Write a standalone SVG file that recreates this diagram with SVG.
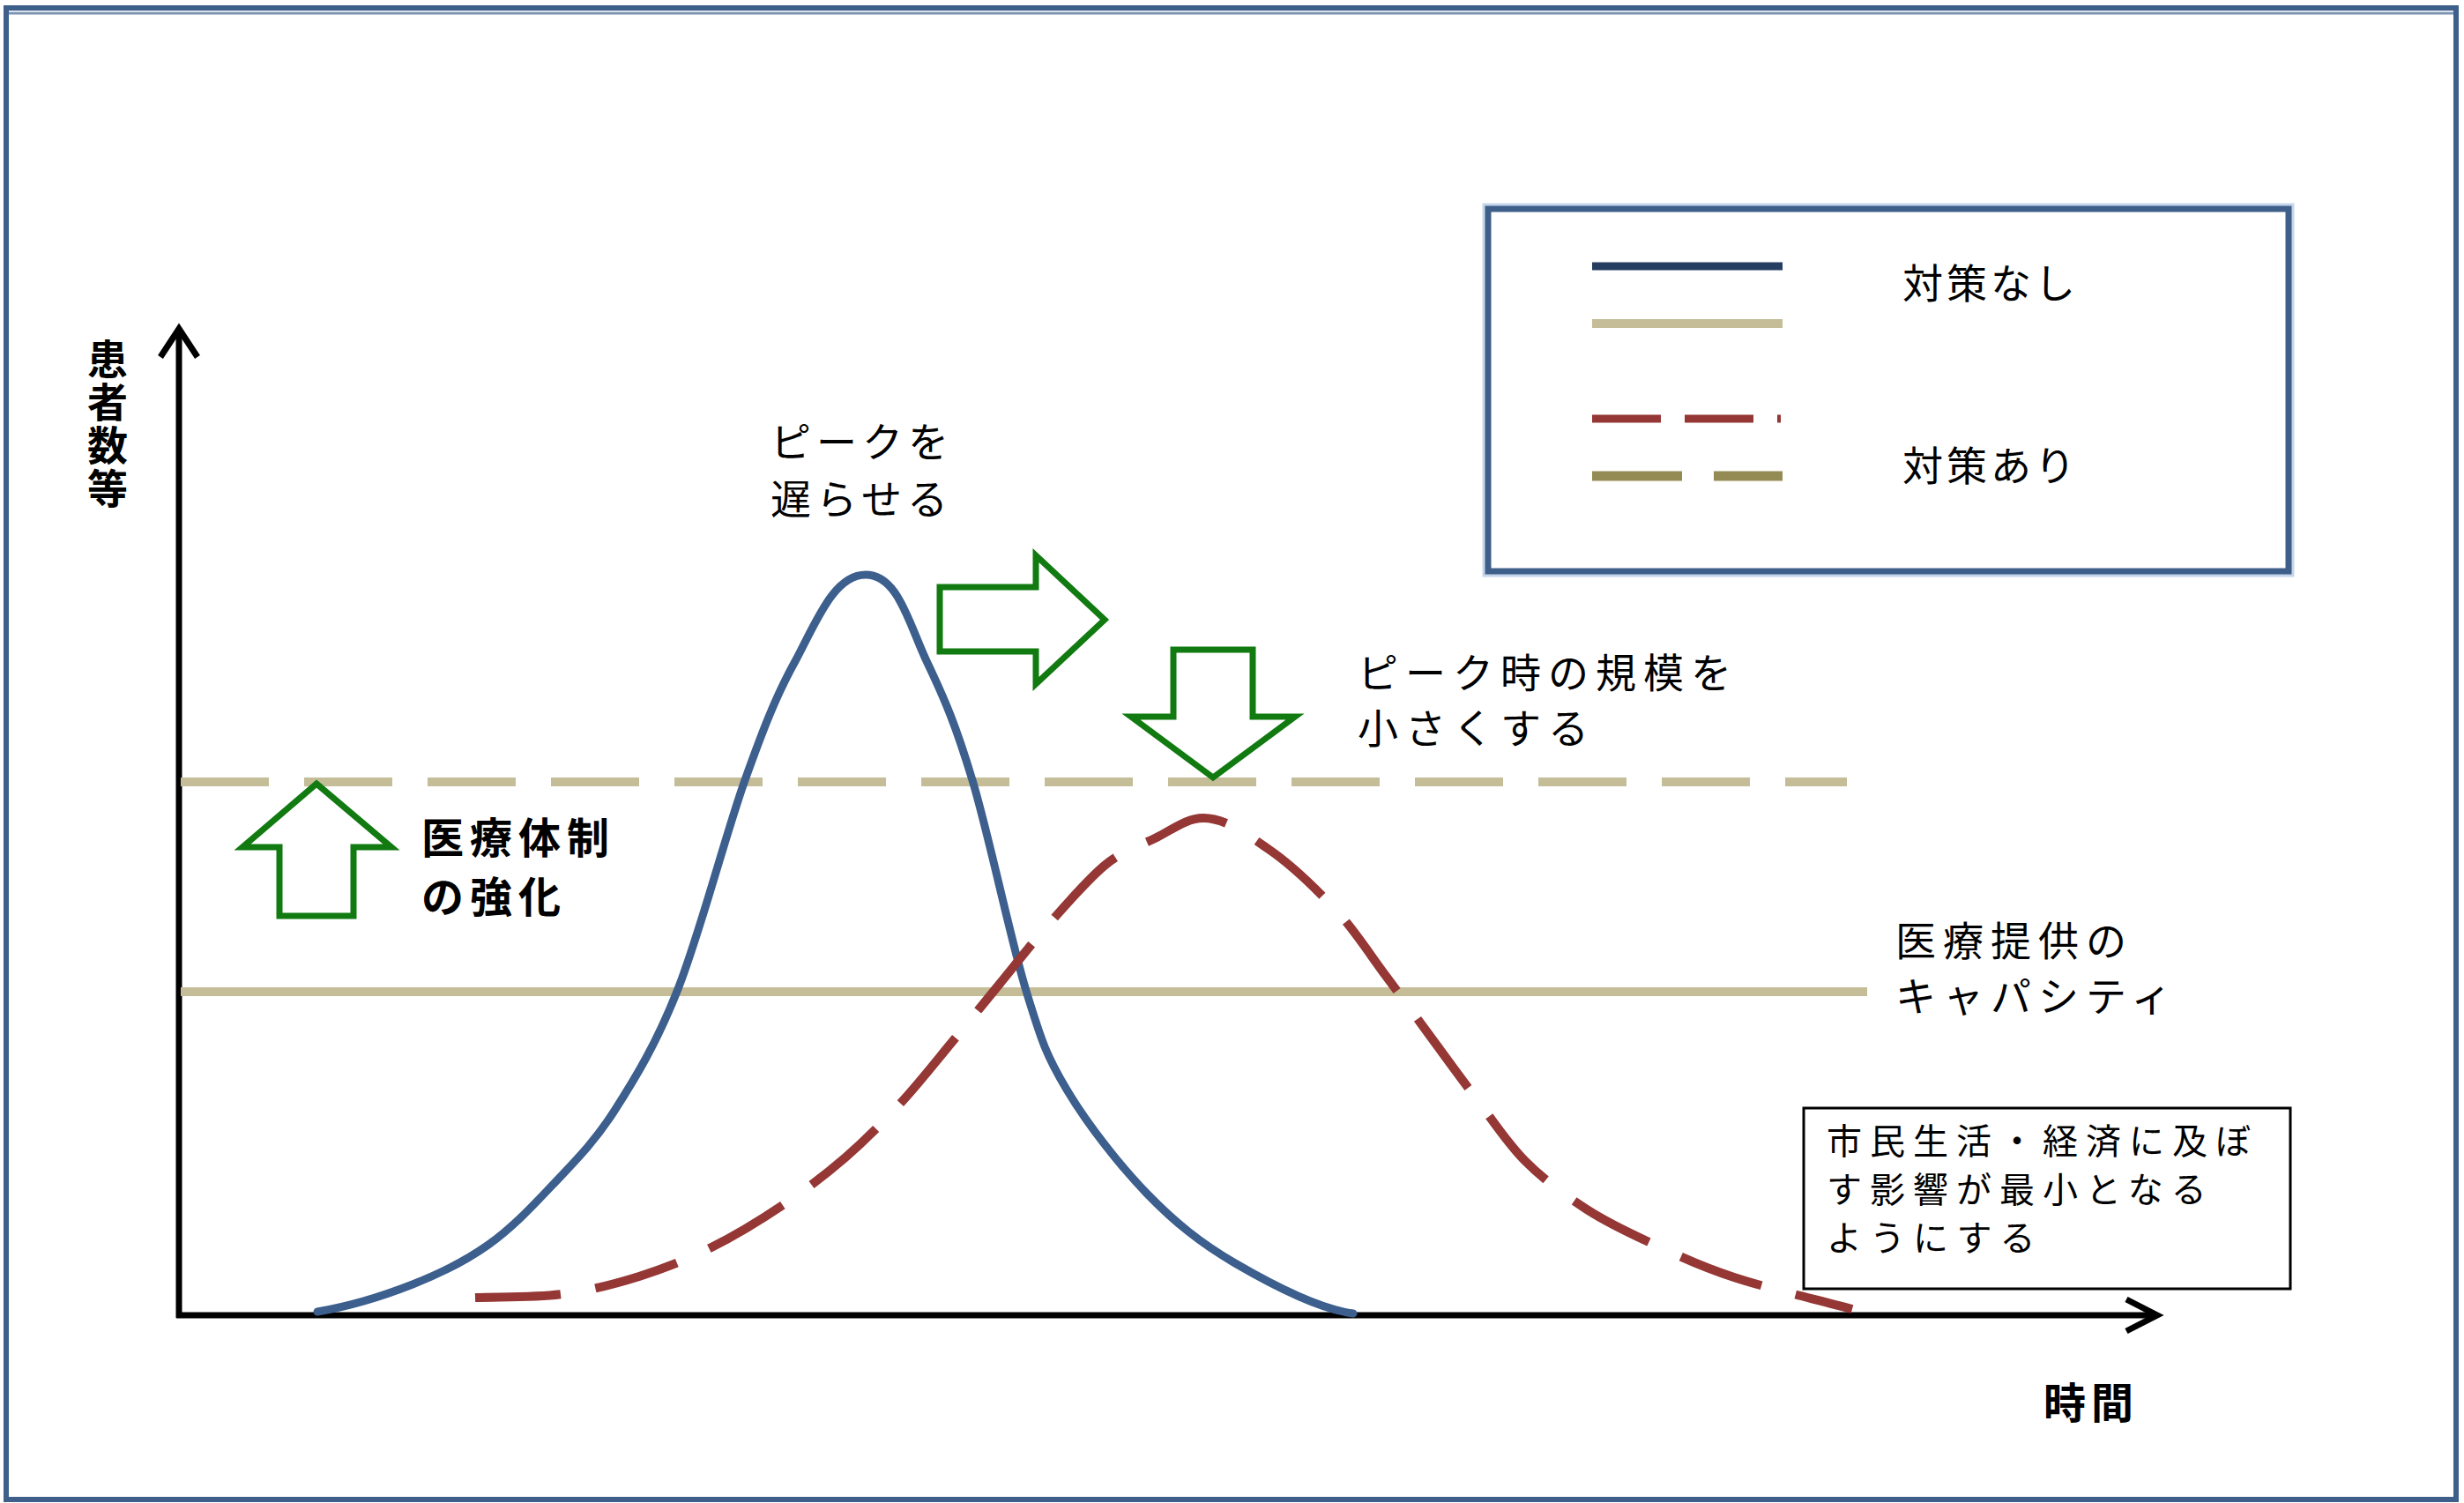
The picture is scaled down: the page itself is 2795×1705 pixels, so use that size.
<svg xmlns="http://www.w3.org/2000/svg" width="2795" height="1705" viewBox="0 0 2795 1705">
<style>
  text { font-family: "Noto Sans CJK JP", "Noto Sans CJK SC", sans-serif; fill: #000; }
  .lbl { font-size: 46px; }
  .bold { font-weight: bold; }
  .axis { fill: none; stroke: #000; stroke-width: 7; }
  .arrowG { fill: #fff; stroke: #117a11; stroke-width: 7; stroke-linejoin: miter; }
  .tan { stroke: #c4bd97; stroke-width: 10; fill: none; }
</style>
<rect x="0" y="0" width="2795" height="1705" fill="#fff"/>
<rect id="frame" x="7" y="9" width="2779" height="1692" fill="none" stroke="#3e5f8a" stroke-width="6"/>
<line x1="10" y1="15" x2="2783" y2="15" stroke="#7d94b2" stroke-width="3"/>

<g id="axes">
  <line class="axis" x1="203" y1="1495" x2="203" y2="374"/>
  <polyline class="axis" points="182,405 203,373 224,405"/>
  <line class="axis" x1="200" y1="1492" x2="2446" y2="1492"/>
  <polyline class="axis" points="2412,1474 2447,1492 2412,1510"/>
</g>

<g id="connectors">
  <line id="capacity-after" class="tan" x1="205" y1="887" x2="2095" y2="887" stroke-dasharray="100 40"/>
  <line id="capacity-before" class="tan" x1="205" y1="1125" x2="2118" y2="1125"/>
  <path id="curve-no-measures" fill="none" stroke="#3c5f8e" stroke-width="9" stroke-linecap="round"
    d="M360,1488 C396,1482 435.7,1469.7 468,1457 C500.3,1444.3 527.7,1430.7 554,1412 C580.3,1393.3 602.2,1370.3 626,1345 C649.8,1319.7 673.2,1297.2 697,1260 C720.8,1222.8 744.3,1184.5 769,1122 C793.7,1059.5 823,946.7 845,885 C865,829 880,790 901,752 C925,708 945,652 982,652 C1019,652 1031,708 1052,752 C1072,794 1084.3,823 1103,885 C1121.7,947 1146.2,1065.5 1164,1124 C1181.8,1182.5 1187.2,1197.7 1210,1236 C1232.8,1274.3 1269.2,1321.2 1301,1354 C1332.8,1386.8 1362,1410.3 1401,1433 C1440,1455.7 1495,1485 1535,1490"/>
  <path id="curve-with-measures" fill="none" stroke="#953735" stroke-width="10" stroke-dasharray="97 40"
    d="M539,1472 C572,1471 607,1472 638,1468 C669,1464 696.8,1456.8 725,1448 C753.2,1439.2 779.8,1428.5 807,1415 C834.2,1401.5 862.7,1384 888,1367 C913.3,1350 936.8,1332.2 959,1313 C981.2,1293.8 1000.8,1273.8 1021,1252 C1041.2,1230.2 1061.2,1204.7 1080,1182 C1098.8,1159.3 1115.7,1138.3 1134,1116 C1152.3,1093.7 1170,1070.5 1190,1048 C1210,1025.5 1234,997.2 1254,981 C1274,964.8 1291.5,959.8 1310,951 C1328.5,942.2 1345,928 1365,928 C1390,928 1415,946.7 1440,964 C1465,981.3 1493,1008.2 1515,1032 C1537,1055.8 1554.2,1083.2 1572,1107 C1589.8,1130.8 1605.2,1152.2 1622,1175 C1638.8,1197.8 1655,1220.3 1673,1244 C1691,1267.7 1708.8,1295.7 1730,1317 C1751.2,1338.3 1775.5,1356.2 1800,1372 C1824.5,1387.8 1849.2,1399.2 1877,1412 C1904.8,1424.8 1929.7,1436.8 1967,1449 C2004.3,1461.2 2056,1473 2101,1485"/>
</g>

<g id="arrow-delay">
  <polygon class="arrowG" points="1066,666 1175,666 1175,630 1253,703 1175,776 1175,739 1066,739"/>
</g>
<g id="arrow-reduce">
  <polygon class="arrowG" points="1331,737 1421,737 1421,813 1469,813 1376,882 1283,813 1331,813"/>
</g>
<g id="arrow-strengthen">
  <polygon class="arrowG" points="359,889 444,961 401,961 401,1039 317,1039 317,961 275,961"/>
</g>

<g id="y-label">
  <text class="lbl bold" x="122" y="384" writing-mode="vertical-rl" letter-spacing="3">患者数等</text>
</g>
<g id="x-label">
  <text class="bold" x="2318" y="1609" font-size="48" letter-spacing="6">時間</text>
</g>

<g id="label-delay">
  <text class="lbl" letter-spacing="6"><tspan x="874" y="518">ピークを</tspan><tspan x="874" y="583">遅らせる</tspan></text>
</g>
<g id="label-reduce">
  <text class="lbl" letter-spacing="8"><tspan x="1540" y="780">ピーク時の規模を</tspan><tspan x="1540" y="843">小さくする</tspan></text>
</g>
<g id="label-strengthen">
  <text class="bold" font-size="48" letter-spacing="7"><tspan x="478" y="968">医療体制</tspan><tspan x="478" y="1035">の強化</tspan></text>
</g>
<g id="label-capacity">
  <text class="lbl" letter-spacing="8"><tspan x="2150" y="1084">医療提供の</tspan><tspan x="2150" y="1147">キャパシティ</tspan></text>
</g>

<g id="note-box">
  <rect x="2046" y="1257" width="552" height="205" fill="#fff" stroke="#000" stroke-width="3"/>
  <text font-size="40" letter-spacing="9"><tspan x="2072" y="1309">市民生活・経済に及ぼ</tspan><tspan x="2072" y="1364">す影響が最小となる</tspan><tspan x="2072" y="1419">ようにする</tspan></text>
</g>

<g id="legend">
  <rect x="1688" y="237" width="908" height="411" fill="none" stroke="#c6d6ea" stroke-width="13"/>
  <rect x="1688" y="237" width="908" height="411" fill="#fff" stroke="#3f5f8b" stroke-width="7"/>
  <line x1="1806" y1="302" x2="2022" y2="302" stroke="#243d61" stroke-width="9"/>
  <line x1="1806" y1="367" x2="2022" y2="367" stroke="#c4bd97" stroke-width="10"/>
  <line x1="1806" y1="475" x2="2020" y2="475" stroke="#953735" stroke-width="9" stroke-dasharray="78 27"/>
  <line x1="1806" y1="540" x2="2022" y2="540" stroke="#948a54" stroke-width="11" stroke-dasharray="102 36"/>
  <text class="lbl" x="2158" y="338" letter-spacing="4">対策なし</text>
  <text class="lbl" x="2158" y="545" letter-spacing="4">対策あり</text>
</g>
</svg>
